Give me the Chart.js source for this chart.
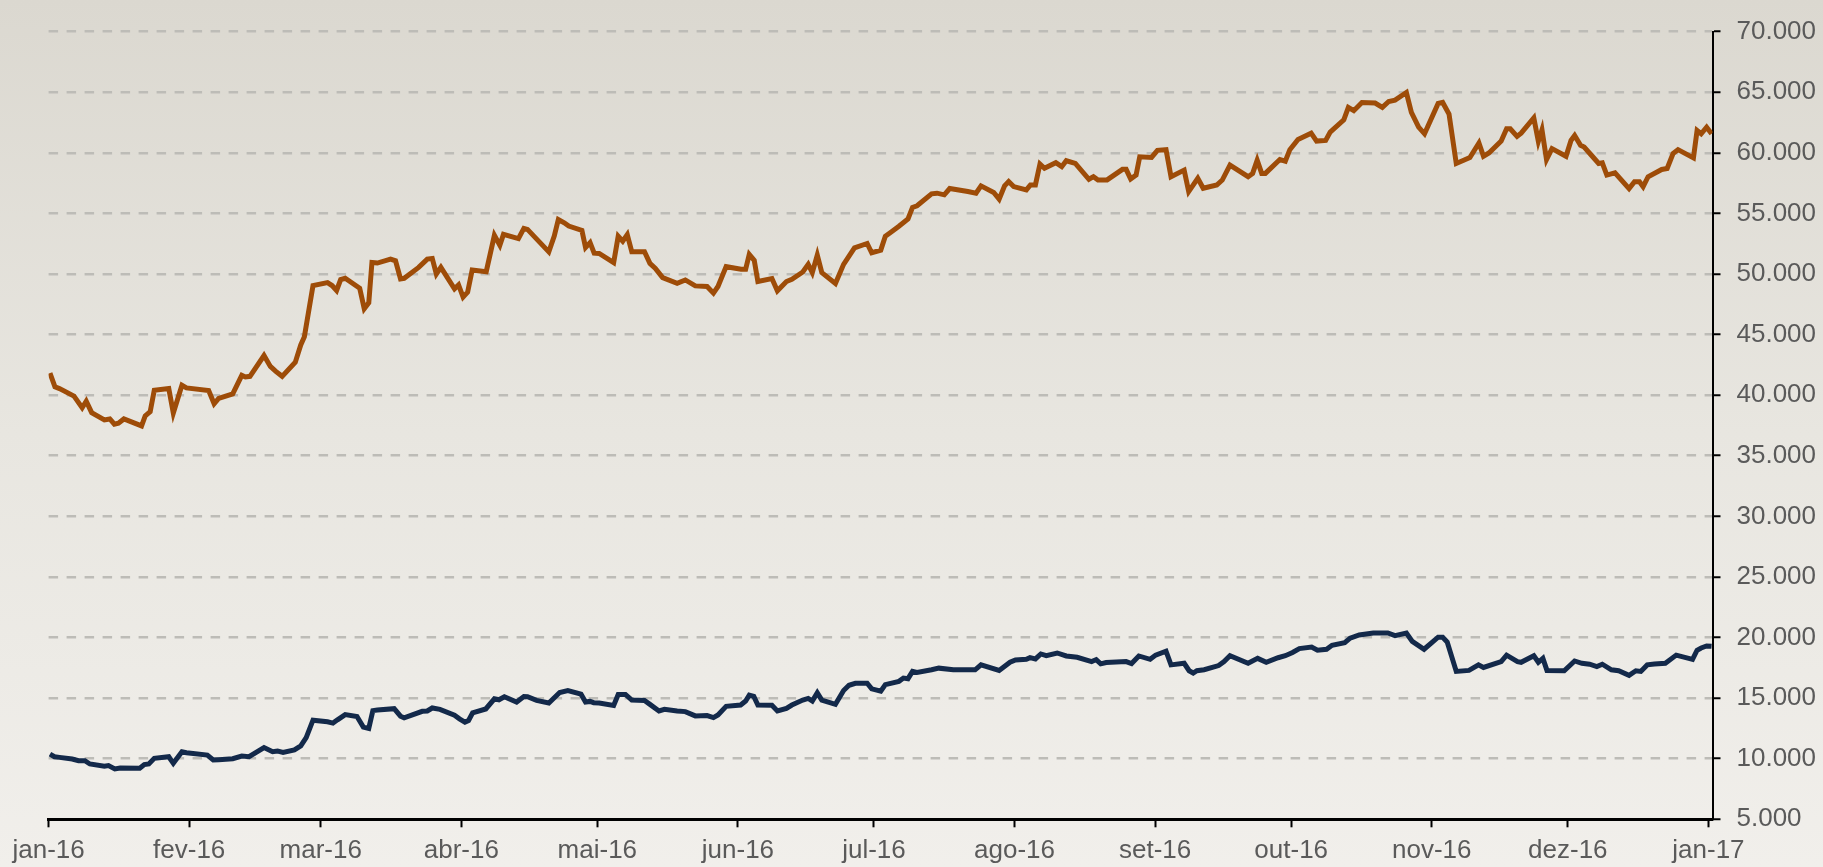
<!DOCTYPE html>
<html>
<head>
<meta charset="utf-8">
<script src="https://cdn.jsdelivr.net/npm/chart.js@4/dist/chart.umd.min.js"></script>
<style>
  html, body { margin: 0; padding: 0; background: #e8e6e0; }
  canvas { display: block; }
</style>
</head>
<body>
<canvas id="c" width="1823" height="867"></canvas>
<script>
// x positions are days since 2016-01-01 (jan-16 tick)
const monthDays = [0, 31, 60, 91, 121, 152, 182, 213, 244, 274, 305, 335, 366];
const monthLabels = ['jan-16','fev-16','mar-16','abr-16','mai-16','jun-16','jul-16','ago-16','set-16','out-16','nov-16','dez-16','jan-17'];
const xMaxDay = 366.9;

const yTicksMin = 5000, yTicksMax = 70000, yTickStep = 5000;

const orangeDays = [0.3,1.4,2.4,5.6,7.4,8.3,9.5,12.3,13.5,14.5,15.4,16.6,20.5,21.3,22.4,23.3,26.5,27.5,29.4,30.4,35.3,36.5,37.5,40.6,42.6,43.4,44.4,47.5,48.9,50.1,51.5,54.4,55.6,56.4,58.3,61.5,62.5,63.5,64.4,65.4,68.6,69.6,70.6,71.3,72.5,75.4,76.5,77.6,78.4,81.6,83.5,84.6,85.5,86.5,89.5,90.4,91.4,92.4,93.4,96.5,98.3,99.5,100.3,103.6,104.8,105.6,110.3,111.5,112.4,113.7,114.7,117.6,118.4,119.4,120.3,121.4,
124.6,125.6,126.6,127.6,128.6,131.4,132.6,133.8,135.4,138.6,140.4,142.6,145.2,146.6,147.6,149.4,152.7,153.7,154.5,155.6,156.4,159.5,160.7,162.7,163.9,166.3,167.5,168.4,169.5,170.5,173.5,175.3,176.5,177.7,180.5,181.5,183.5,184.5,185.5,187.5,189.5,190.5,191.5,194.7,195.9,197.5,198.7,202.7,204.5,205.6,208.4,209.6,210.8,211.7,212.8,215.6,216.5,217.6,218.6,219.6,222.1,223.4,224.4,226.4,229.4,230.4,231.4,233.4,236.8,237.6,238.6,239.8,240.6,243.2,
244.5,246.4,247.5,250.4,251.4,253.4,254.6,257.6,258.8,260.5,264.5,265.5,266.5,267.5,268.3,271.5,272.7,273.7,275.5,278.4,279.6,281.6,282.6,285.6,286.6,287.8,289.6,292.5,294.1,295.5,296.9,299.4,300.5,302.1,303.4,306.4,307.4,308.8,310.4,313.4,315.4,316.4,317.6,320.3,321.5,322.3,323.8,324.7,327.5,328.5,329.3,330.3,331.5,334.6,335.7,336.5,337.8,338.6,340.2,341.8,342.6,343.6,345.4,348.5,349.7,350.8,351.6,352.7,355.7,356.9,358.2,359.3,362.7,363.5,364.4,365.6,366.7];
const orangeValues = [41824,40680,40544,39917,38963,39508,38554,37955,38037,37601,37683,38037,37464,38282,38636,40407,40544,38527,40816,40598,40380,39290,39726,40107,41634,41497,41552,43269,42369,41960,41552,42724,44140,44822,49045,49290,49045,48637,49536,49645,48828,47138,47629,50953,50899,51226,51090,49591,49645,50544,51226,51280,49999,50544,48773,49100,48092,48501,50326,50190,53187,52370,53269,52915,53760,53678,51825,53133,54495,54223,53950,53596,52179,52588,51716,51689,
50930,53115,52706,53252,51831,51831,50875,50465,49700,49236,49509,49017,48963,48417,48963,50602,50383,50383,51613,51121,49373,49618,48608,49373,49564,50165,50793,50110,51558,50110,49209,50793,51476,52159,52514,51749,51968,53115,53389,53935,54536,55492,55629,56612,56667,56530,57049,56803,56667,57268,56721,56175,57268,57623,57213,56940,57350,57350,59071,58716,59180,58853,59344,59126,57814,58033,57760,57760,58634,58634,57842,58170,59672,59618,
60204,60258,58024,58569,56798,57888,57070,57343,57752,58978,58024,58297,59387,58297,58297,59441,59305,60259,61103,61621,60967,61022,61703,62711,63747,63474,64155,64101,63747,64237,64346,64973,63338,62112,61567,64074,64155,63202,59114,59605,60804,59714,59986,60967,61975,61975,61349,61621,62875,60940,61894,59441,60341,59714,61022,61430,60613,60477,59795,59114,59169,58160,58351,57043,57615,57615,57207,58024,58624,58705,59932,60259,59577,61839,61567,62112,61567];

const navyDays = [0.3,1.3,2.4,5.2,6.6,8.0,9.1,12.3,13.2,14.6,15.8,20.1,21.1,22.1,23.3,26.5,27.5,29.4,30.4,35.0,36.3,37.5,40.6,42.6,44.2,47.5,49.4,50.5,51.7,54.2,55.6,56.8,58.3,61.5,62.7,63.7,65.4,68.0,69.4,70.6,71.5,72.5,76.2,77.6,78.4,82.4,83.5,84.6,86.3,89.5,90.6,91.8,92.6,93.5,96.4,98.3,99.3,100.5,103.2,104.8,105.6,107.6,110.3,112.7,114.5,117.4,118.4,119.4,120.2,121.4,
124.6,125.6,127.2,128.6,131.4,132.6,134.6,135.8,138.6,140.4,142.6,145.2,146.6,147.6,149.4,152.6,153.7,154.5,155.5,156.4,159.5,160.7,162.7,163.9,166.3,167.5,168.4,169.5,170.5,173.5,175.3,176.5,177.9,180.5,181.5,183.5,184.5,187.5,188.5,189.5,190.5,191.5,194.7,196.3,199.5,204.3,205.6,209.6,212.0,213.2,215.6,216.4,217.6,218.8,220.0,222.4,224.4,226.8,230.0,231.0,232.0,233.2,237.6,238.8,240.4,
242.9,244.1,246.4,247.5,250.4,251.5,252.4,253.2,254.8,258.0,259.2,260.5,264.5,266.6,268.5,271.1,272.7,274.3,275.8,278.5,279.8,281.8,283.0,285.8,287.0,289.0,292.1,295.3,296.9,299.4,300.7,303.3,306.4,307.4,308.4,310.4,313.2,315.3,316.4,320.3,321.5,323.9,324.7,327.5,328.5,329.5,330.4,334.2,336.5,338.1,339.8,341.4,342.6,344.6,346.2,348.5,350.0,351.1,352.5,354.1,356.5,358.9,362.5,363.5,364.4,365.6,366.7];
const navyValues = [10381,10164,10109,9974,9838,9838,9566,9376,9430,9158,9240,9213,9512,9566,10028,10164,9620,10571,10490,10300,9892,9919,10001,10218,10164,10925,10571,10626,10517,10734,11060,11740,13180,13044,12935,13207,13642,13478,12609,12500,13968,14022,14131,13506,13370,13913,13940,14185,14076,13587,13288,13017,13152,13777,14103,14946,14864,15109,14674,15136,15109,14810,14592,15462,15625,15326,14674,14728,14620,14592,
14403,15300,15300,14838,14811,14485,13941,14077,13941,13887,13533,13561,13397,13615,14321,14430,14756,15245,15137,14430,14403,13941,14158,14430,14838,14974,14756,15436,14838,14485,15626,16060,16223,16223,15762,15571,16115,16386,16658,16604,17202,17120,17337,17473,17337,17337,17745,17283,17962,18152,18207,18343,18234,18642,18506,18723,18478,18370,18017,18180,17826,17935,18017,17854,18478,
18199,18548,18871,17742,17876,17258,17070,17258,17339,17688,18011,18495,17876,18280,17957,18334,18495,18764,19086,19220,18952,19032,19355,19570,19946,20215,20376,20376,20161,20376,19677,19032,20027,20027,19624,17205,17285,17742,17527,18011,18548,18011,17957,18495,17957,18280,17285,17258,18065,17876,17796,17608,17796,17339,17258,16882,17258,17205,17742,17823,17876,18548,18199,18952,19140,19301,19274];

const toPoints = (xs, ys) => xs.map((x, i) => ({ x: x, y: ys[i] }));
const fmt = n => String(n).replace(/\B(?=(\d{3})+(?!\d))/g, '.');

const bgPlugin = {
  id: 'bg',
  beforeDraw(chart) {
    const { ctx, width, height } = chart;
    ctx.save();
    const g = ctx.createLinearGradient(0, 0, 0, height);
    g.addColorStop(0, '#dbd8d0');
    g.addColorStop(0.5, '#e8e6e0');
    g.addColorStop(1, '#f1efeb');
    ctx.fillStyle = g;
    ctx.fillRect(0, 0, width, height);
    ctx.restore();
  }
};

const FONT = { family: "'Liberation Sans', Arial, sans-serif", size: 26 };

new Chart(document.getElementById('c'), {
  type: 'line',
  data: {
    datasets: [
      {
        data: toPoints(orangeDays, orangeValues),
        borderColor: '#9e4c08',
        borderWidth: 5,
        pointRadius: 0,
        tension: 0,
        fill: false
      },
      {
        data: toPoints(navyDays, navyValues),
        borderColor: '#13294a',
        borderWidth: 5,
        pointRadius: 0,
        tension: 0,
        fill: false
      }
    ]
  },
  options: {
    responsive: false,
    animation: false,
    events: [],
    layout: { padding: { left: 48.6, top: 24, right: 0, bottom: 0 } },
    plugins: { legend: { display: false }, tooltip: { enabled: false } },
    scales: {
      x: {
        type: 'linear',
        min: 0,
        max: xMaxDay,
        afterBuildTicks(scale) { scale.ticks = monthDays.map(v => ({ value: v })); },
        afterFit(scale) { scale.height = 47.7; },
        ticks: {
          autoSkip: false,
          maxRotation: 0,
          padding: 8,
          color: '#5a5a5a',
          font: FONT,
          callback(value) { const i = monthDays.indexOf(value); return i >= 0 ? monthLabels[i] : ''; }
        },
        grid: {
          display: true,
          drawOnChartArea: false,
          drawTicks: true,
          tickLength: 8,
          tickColor: '#000',
          tickWidth: 2
        },
        border: { display: true, color: '#000', width: 3 }
      },
      y: {
        position: 'right',
        min: yTicksMin,
        max: yTicksMax,
        afterFit(scale) { scale.width = 110.5; },
        ticks: {
          stepSize: yTickStep,
          padding: 16,
          color: '#5a5a5a',
          font: FONT,
          callback: v => fmt(v)
        },
        grid: {
          color: '#bdbcb7',
          lineWidth: 2.5,
          tickLength: 8,
          tickColor: '#000',
          tickWidth: 2,
          tickBorderDash: []
        },
        border: { display: true, color: '#000', width: 2, dash: [9.5, 8.5] }
      }
    }
  },
  plugins: [bgPlugin]
});
</script>
</body>
</html>
